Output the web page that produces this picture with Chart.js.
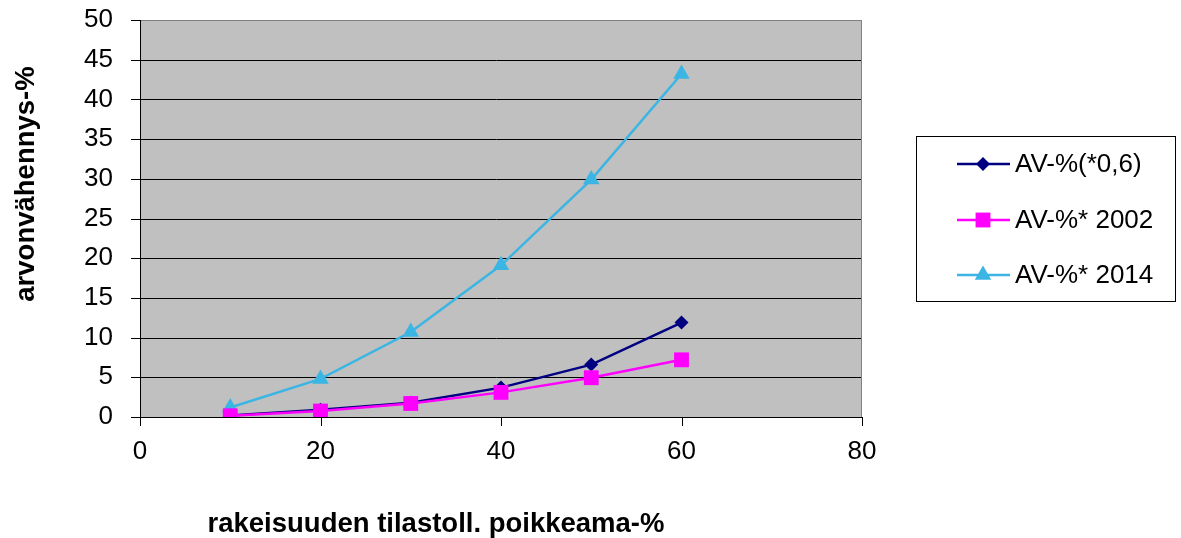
<!DOCTYPE html>
<html><head><meta charset="utf-8">
<script src="https://cdn.jsdelivr.net/npm/chart.js@4.4.0/dist/chart.umd.min.js"></script>
<style>html,body{margin:0;padding:0;background:#fff}#wrap{width:1181px;height:538px;position:relative}</style>
</head><body><div id="wrap"><canvas id="c" width="1181" height="538"></canvas></div>
<script>
const xValues = [10, 20, 30, 40, 50, 60];
const seriesNames = ["AV-%(*0,6)", "AV-%* 2002", "AV-%* 2014"];
const avFactor = [0.2, 0.9, 1.8, 3.7, 6.6, 11.9];
const av2002 = [0.15, 0.75, 1.7, 3.1, 4.95, 7.2];
const av2014 = [1.2, 4.8, 10.7, 19.1, 29.9, 43.2];
const xTicks = [0, 20, 40, 60, 80];
const yTicks = [0, 5, 10, 15, 20, 25, 30, 35, 40, 45, 50];
const xTitle = "rakeisuuden tilastoll. poikkeama-%";
const yTitle = "arvonvähennys-%";

const FONT = "'Liberation Sans', Arial, sans-serif";
const colors = ["#000080", "#FF00FF", "#3AB5E4"];
const styles = ["rectRot", "rect", "triangle"];
const radii = [7, 10.5, 9.5];

function pts(arr){ return xValues.map((x,i)=>({x:x, y:arr[i]})); }
const datasets = [avFactor, av2002, av2014].map((arr,i)=>({
  label: seriesNames[i], data: pts(arr), borderColor: colors[i], backgroundColor: colors[i],
  borderWidth: 2.5, pointStyle: styles[i], pointRadius: radii[i], pointBorderWidth: 0,
  pointBackgroundColor: colors[i], tension: 0, fill: false
}));
datasets[0].order = 2; datasets[1].order = 1; datasets[2].order = 3;

const deco = {
  id: 'deco',
  beforeDatasetsDraw(chart){
    const {ctx, chartArea:a} = chart;
    ctx.save();
    ctx.fillStyle = '#C0C0C0';
    ctx.fillRect(a.left, a.top, a.right-a.left, a.bottom-a.top);
    const y = chart.scales.y;
    ctx.strokeStyle = '#000'; ctx.lineWidth = 1;
    yTicks.forEach(v=>{
      const py = Math.round(y.getPixelForValue(v))+0.5;
      ctx.beginPath(); ctx.moveTo(a.left-9, py); ctx.lineTo(a.right, py); ctx.stroke();
    });
    ctx.strokeStyle = '#808080';
    ctx.strokeRect(a.left+0.5, a.top+0.5, a.right-a.left-1, a.bottom-a.top);
    ctx.strokeStyle = '#000';
    ctx.beginPath(); ctx.moveTo(a.left+0.5, a.top); ctx.lineTo(a.left+0.5, a.bottom+0.5); ctx.lineTo(a.right, a.bottom+0.5); ctx.stroke();
    const x = chart.scales.x;
    xTicks.forEach(v=>{
      const px = Math.round(x.getPixelForValue(v))+0.5;
      ctx.beginPath(); ctx.moveTo(px, a.bottom); ctx.lineTo(px, a.bottom+9); ctx.stroke();
    });
    ctx.restore();
  },
  afterDraw(chart){
    const {ctx} = chart;
    ctx.save();
    ctx.fillStyle = '#000';
    ctx.font = "bold 27.5px " + FONT;
    ctx.textAlign = 'center'; ctx.textBaseline = 'alphabetic';
    ctx.fillText(xTitle, 436, 532);
    ctx.translate(34, 184); ctx.rotate(-Math.PI/2);
    ctx.fillText(yTitle, 0, 0);
    ctx.restore();
    ctx.save();
    ctx.strokeStyle = '#000'; ctx.lineWidth = 1;
    ctx.strokeRect(916.5, 136.5, 259, 165);
    const rows = [164, 220, 275];
    ctx.font = "26px " + FONT; ctx.textBaseline = 'middle'; ctx.textAlign = 'left';
    rows.forEach((ry,i)=>{
      ctx.strokeStyle = colors[i]; ctx.lineWidth = 2.5;
      ctx.beginPath(); ctx.moveTo(957, ry); ctx.lineTo(1010, ry); ctx.stroke();
      ctx.fillStyle = colors[i];
      Chart.helpers.drawPoint(ctx, {pointStyle: styles[i], radius: radii[i], borderWidth: 0}, 983, ry);
      ctx.fillStyle = '#000';
      ctx.fillText(seriesNames[i], 1015, ry+1);
    });
    ctx.restore();
  }
};

new Chart(document.getElementById('c'), {
  type: 'line',
  data: { datasets },
  options: {
    responsive: false, animation: false, devicePixelRatio: 1,
    layout: { padding: { left: 0, right: 319, top: 20, bottom: 0 } },
    plugins: { legend: { display: false }, tooltip: { enabled: false } },
    scales: {
      x: { type: 'linear', min: 0, max: 80, afterBuildTicks: s=>{ s.ticks = xTicks.map(v=>({value:v})); },
        grid: { display: false }, border: { display: false },
        ticks: { color: '#000', font: { family: FONT, size: 26 }, padding: 11, maxRotation: 0 },
        afterFit: s=>{ s.height = 121; s.paddingLeft = 0; s.paddingRight = 0; } },
      y: { type: 'linear', min: 0, max: 50, afterBuildTicks: s=>{ s.ticks = yTicks.map(v=>({value:v})); },
        grid: { display: false }, border: { display: false },
        ticks: { color: '#000', font: { family: FONT, size: 26 }, padding: 19 },
        afterFit: s=>{ s.width = 140; s.paddingTop = 0; s.paddingBottom = 0; } }
    }
  },
  plugins: [deco]
});
</script></body></html>
